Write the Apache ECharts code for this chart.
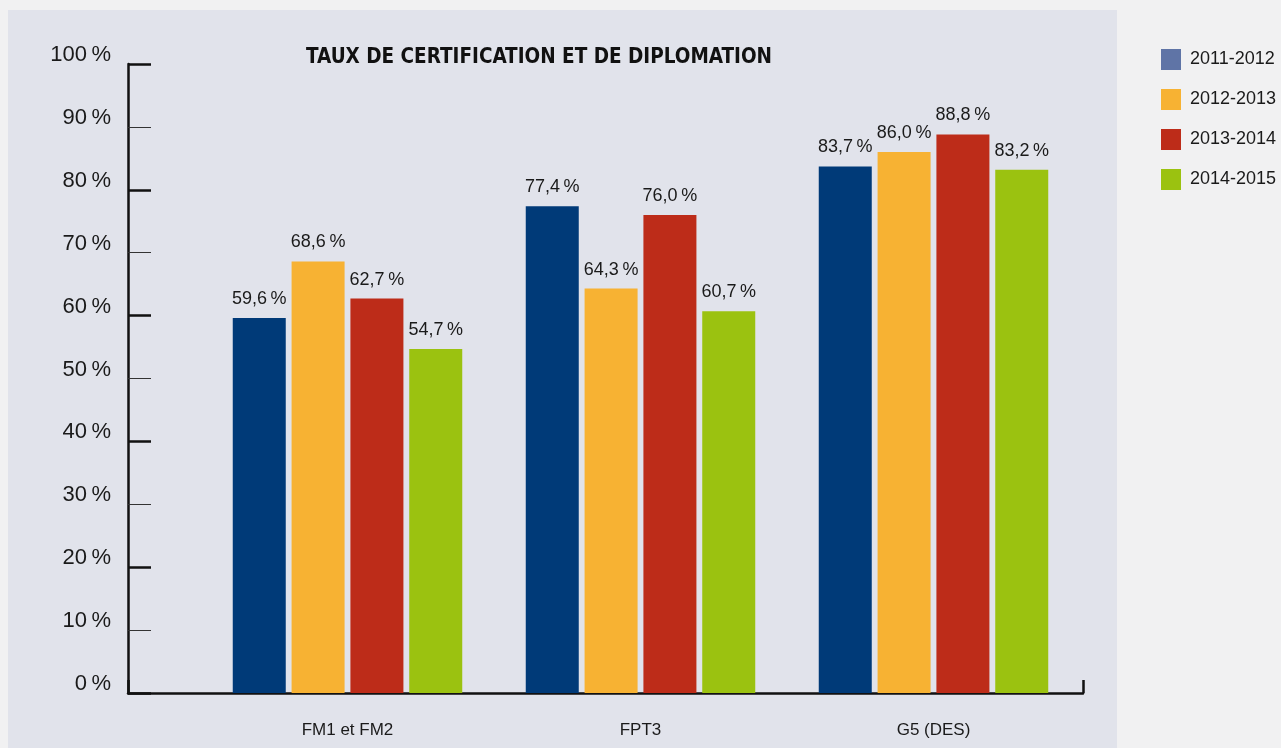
<!DOCTYPE html>
<html>
<head>
<meta charset="utf-8">
<script src="https://cdn.jsdelivr.net/npm/echarts@6/dist/echarts.min.js"></script>
<style>
  html, body { margin: 0; padding: 0; background: #f1f1f2; }
  #panel { position: absolute; left: 8px; top: 10px; width: 1109px; height: 738px; background: #e1e3eb; }
  #main { position: absolute; left: 0; top: 0; width: 1281px; height: 748px; }
</style>
</head>
<body>
<div id="panel"></div>
<div id="main"></div>
<script>
// données
var categories = ['FM1 et FM2', 'FPT3', 'G5 (DES)'];
var years = ['2011-2012', '2012-2013', '2013-2014', '2014-2015'];
var v2011 = [59.6, 77.4, 83.7];
var v2012 = [68.6, 64.3, 86.0];
var v2013 = [62.7, 76.0, 88.8];
var v2014 = [54.7, 60.7, 83.2];
var barColors = ['#003a78', '#f7b233', '#bd2c19', '#9bc210'];
var legendColors = ['#5f74a6', '#f7b233', '#bd2c19', '#9bc210'];

var font = "'Liberation Sans', Arial, sans-serif";
var titleFont = "'DejaVu Sans Condensed', 'Liberation Sans', sans-serif";
var ink = '#1a1a1a';

function pct(v) {
    return v.toFixed(1).replace('.', ',') + '\u2009%';
}

var values = [v2011, v2012, v2013, v2014];
var series = years.map(function (y, i) {
    return {
        name: y,
        type: 'bar',
        xAxisIndex: 1,
        yAxisIndex: 1,
        barWidth: 53,
        barGap: '11%',
        itemStyle: { color: barColors[i] },
        label: {
            show: true,
            position: 'top',
            distance: 10,
            fontFamily: font,
            fontSize: 18,
            color: ink,
            formatter: function (p) { return pct(p.value); }
        },
        data: values[i]
    };
});

var myChart = echarts.init(document.getElementById('main'));
var option = {
    backgroundColor: 'transparent',
    animation: false,
    title: {
        text: 'TAUX DE CERTIFICATION ET DE DIPLOMATION',
        left: 534,
        textAlign: 'center',
        top: 42,
        textStyle: { fontFamily: titleFont, fontSize: 20.5, fontWeight: 'bold', color: '#111' }
    },
    legend: {
        orient: 'vertical',
        left: 1156,
        top: 44,
        itemWidth: 20,
        itemHeight: 21,
        itemGap: 19,
        icon: 'rect',
        textStyle: { fontFamily: font, fontSize: 18, color: ink, padding: [0, 0, 0, 4] },
        data: years.map(function (y, i) {
            return { name: y, itemStyle: { color: legendColors[i] } };
        })
    },
    grid: [
        { left: 128, right: 198, top: 64, bottom: 55 },
        { left: 201, right: 201, top: 64, bottom: 55 }
    ],
    xAxis: [
        {
            type: 'category',
            gridIndex: 0,
            data: categories,
            axisLine: { lineStyle: { color: '#111', width: 2.5 } },
            axisTick: {
                show: true,
                inside: true,
                length: 13,
                lineStyle: { color: '#111', width: 2.5 },
                interval: function (i) { return i === categories.length - 1; }
            },
            axisLabel: { show: false }
        },
        {
            type: 'category',
            gridIndex: 1,
            data: categories,
            axisLine: { show: false },
            axisTick: { show: false },
            axisLabel: { fontFamily: font, fontSize: 17, color: ink, margin: 29 }
        }
    ],
    yAxis: [
        {
            type: 'value',
            gridIndex: 0,
            min: 0,
            max: 100,
            interval: 10,
            axisLine: { show: true, lineStyle: { color: '#111', width: 2.5 } },
            axisTick: { show: true, inside: true, length: 23, lineStyle: { color: '#333', width: 1 } },
            splitLine: { show: false },
            axisLabel: {
                fontFamily: font,
                fontSize: 22,
                lineHeight: 18,
                verticalAlign: 'bottom',
                color: ink,
                margin: 17,
                formatter: function (v) { return v + '\u2009%'; }
            }
        },
        {
            type: 'value',
            gridIndex: 1,
            min: 0,
            max: 100,
            show: false
        },
        {
            type: 'value',
            gridIndex: 0,
            min: 0,
            max: 100,
            interval: 20,
            position: 'left',
            axisLine: { show: false },
            axisTick: { show: true, inside: true, length: 23, lineStyle: { color: '#111', width: 2.5 } },
            splitLine: { show: false },
            axisLabel: { show: false }
        }
    ],
    series: series
};
myChart.setOption(option);
</script>
</body>
</html>
